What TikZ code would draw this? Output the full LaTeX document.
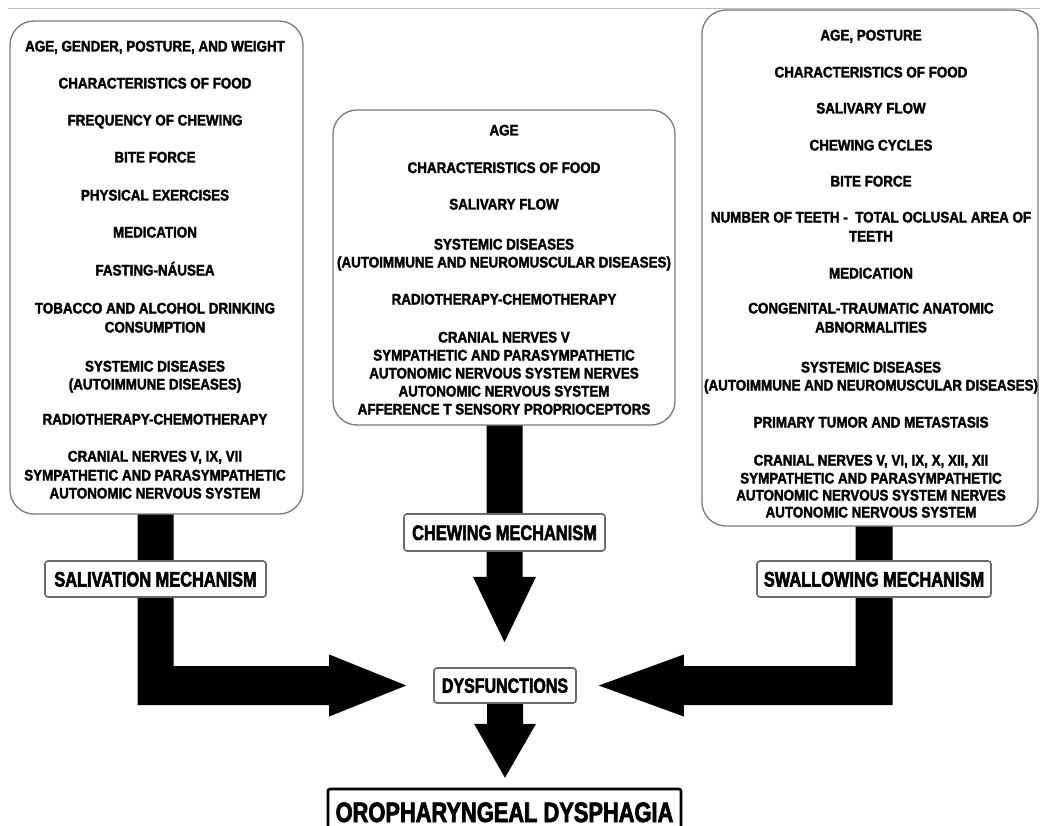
\documentclass[tikz,border=0pt]{standalone}
\usepackage{fontspec}
\usetikzlibrary{calc,backgrounds}
\newfontfamily\boxfont{Liberation Sans}[FakeStretch=0.87,FakeBold=2]
\newfontfamily\labfont{Liberation Sans}[FakeStretch=0.78,FakeBold=2.5]
\definecolor{frame}{HTML}{7A7A7A}
\definecolor{labframe}{HTML}{6A6A6A}
\pgfdeclarelayer{paper}
\pgfsetlayers{paper,background,main}

\tikzset{
  bigbox/.style={draw=frame, line width=1.3pt, fill=white, rounded corners=24pt, inner sep=0pt},
  txt/.style={font=\boxfont\bfseries\fontsize{15.4}{18}\selectfont, inner sep=0pt,
              text height=11pt, text depth=0pt, anchor=center},
  lab/.style={draw=labframe, line width=1.6pt, fill=white, rounded corners=3pt, inner sep=0pt,
              text height=15pt, text depth=0pt, font=\labfont\bfseries\fontsize{21}{24}\selectfont},
  final/.style={draw=black, line width=2.6pt, fill=white, rounded corners=2pt, inner sep=0pt,
              text height=20pt, text depth=0pt, font=\labfont\bfseries\fontsize{28}{32}\selectfont},
  blockarrow/.style={fill=black}
}

\begin{document}
\begin{tikzpicture}[x=1pt,y=-1pt]
\useasboundingbox (0,0) rectangle (1040,826);
\clip (0,0) rectangle (1040,826);
\begin{pgfonlayer}{paper}
  \fill[white] (0,0) rectangle (1040,826);
\end{pgfonlayer}
\draw[black!25, line width=1pt] (8,9) -- (1040,9);

% factor boxes
\node[bigbox, minimum width=293pt, minimum height=493pt] (salbox) at (156.5,267.5) {};
\node[bigbox, minimum width=342pt, minimum height=315pt] (cbox) at (504,267.5) {};
\node[bigbox, minimum width=336pt, minimum height=516pt] (rbox) at (870,268) {};

% salivation factors
\foreach \ly/\lt [count=\i] in {
  46/{AGE, GENDER, POSTURE, AND WEIGHT},
  83/{CHARACTERISTICS OF FOOD},
  120/{FREQUENCY OF CHEWING},
  157/{BITE FORCE},
  195/{PHYSICAL EXERCISES},
  232/{MEDICATION},
  270/{FASTING-NÁUSEA},
  308/{TOBACCO AND ALCOHOL DRINKING},
  327/{CONSUMPTION},
  366/{SYSTEMIC DISEASES},
  384/{(AUTOIMMUNE DISEASES)},
  419/{RADIOTHERAPY-CHEMOTHERAPY},
  456/{CRANIAL NERVES V, IX, VII},
  475/{SYMPATHETIC AND PARASYMPATHETIC},
  493/{AUTONOMIC NERVOUS SYSTEM}}
  \node[txt] (sal-\i) at (155,\ly) {\lt};

% chewing factors
\foreach \ly/\lt [count=\i] in {
  130/{AGE},
  167.5/{CHARACTERISTICS OF FOOD},
  204/{SALIVARY FLOW},
  244/{SYSTEMIC DISEASES},
  262/{(AUTOIMMUNE AND NEUROMUSCULAR DISEASES)},
  299/{RADIOTHERAPY-CHEMOTHERAPY},
  337/{CRANIAL NERVES V},
  355/{SYMPATHETIC AND PARASYMPATHETIC},
  373/{AUTONOMIC NERVOUS SYSTEM NERVES},
  391/{AUTONOMIC NERVOUS SYSTEM},
  409/{AFFERENCE T SENSORY PROPRIOCEPTORS}}
  \node[txt] (chw-\i) at (504,\ly) {\lt};

% swallowing factors
\foreach \ly/\lt [count=\i] in {
  35/{AGE, POSTURE},
  72/{CHARACTERISTICS OF FOOD},
  108/{SALIVARY FLOW},
  145/{CHEWING CYCLES},
  181/{BITE FORCE},
  217/{NUMBER OF TEETH -~\ TOTAL OCLUSAL AREA OF},
  236/{TEETH},
  273/{MEDICATION},
  308/{CONGENITAL-TRAUMATIC ANATOMIC},
  327/{ABNORMALITIES},
  367/{SYSTEMIC DISEASES},
  385/{(AUTOIMMUNE AND NEUROMUSCULAR DISEASES)},
  422/{PRIMARY TUMOR AND METASTASIS},
  460/{CRANIAL NERVES V, VI, IX, X, XII, XII},
  478/{SYMPATHETIC AND PARASYMPATHETIC},
  495/{AUTONOMIC NERVOUS SYSTEM NERVES},
  512/{AUTONOMIC NERVOUS SYSTEM}}
  \node[txt] (swl-\i) at (871,\ly) {\lt};

% mechanism labels and outcome
\node[lab, minimum width=221pt, minimum height=36pt] (sallab) at (155.5,579) {SALIVATION MECHANISM};
\node[lab, minimum width=201pt, minimum height=37pt] (chewlab) at (504.5,532.5) {CHEWING MECHANISM};
\node[lab, minimum width=234pt, minimum height=36pt] (swlab) at (874,579) {SWALLOWING MECHANISM};
\node[lab, minimum width=142pt, minimum height=35pt, font=\labfont\bfseries\fontsize{20.5}{24}\selectfont,
      text height=14.5pt] (dys) at (505,685.5) {DYSFUNCTIONS};
\node[final, minimum width=353pt, minimum height=46pt] (orop) at (504.5,812) {OROPHARYNGEAL DYSPHAGIA};

% block arrows
\begin{scope}[on background layer]
  % salivation -> dysfunctions
  \fill[blockarrow]
    ($(sallab.center |- salbox.south)+(-18,-6)$) -- ++(36,0)
    -- ($(sallab.center |- dys.center)+(18,-19.5)$)
    -- ($(dys.west)+(-104,-19.5)$) -- ($(dys.west)+(-104,-31)$)
    -- ($(dys.west)+(-27,0)$)
    -- ($(dys.west)+(-104,31)$) -- ($(dys.west)+(-104,19.5)$)
    -- ($(sallab.center |- dys.center)+(-18,19.5)$) -- cycle;
  % chewing -> dysfunctions
  \fill[blockarrow]
    ($(chewlab.center |- cbox.south)+(-18,-6)$) -- ++(36,0)
    -- ($(chewlab.south)+(18,25)$) -- ($(chewlab.south)+(31.5,25)$)
    -- ($(chewlab.south |- dys.north)+(0,-25)$)
    -- ($(chewlab.south)+(-31.5,25)$) -- ($(chewlab.south)+(-18,25)$) -- cycle;
  % swallowing -> dysfunctions
  \fill[blockarrow]
    ($(swlab.center |- rbox.south)+(18.5,-6)$) -- ++(-37,0)
    -- ($(swlab.center |- dys.center)+(-18.5,-19.5)$)
    -- ($(dys.east)+(107,-19.5)$) -- ($(dys.east)+(107,-31)$)
    -- ($(dys.east)+(22,0)$)
    -- ($(dys.east)+(107,31)$) -- ($(dys.east)+(107,19.5)$)
    -- ($(swlab.center |- dys.center)+(18.5,19.5)$) -- cycle;
  % dysfunctions -> oropharyngeal dysphagia
  \fill[blockarrow]
    ($(dys.south)+(-18,-4)$) -- ($(dys.south)+(18,-4)$)
    -- ($(dys.south)+(18,20)$) -- ($(dys.south)+(31,20)$)
    -- ($(dys.south |- orop.north)+(0,-10)$)
    -- ($(dys.south)+(-31,20)$) -- ($(dys.south)+(-18,20)$) -- cycle;
\end{scope}
\end{tikzpicture}
\end{document}
